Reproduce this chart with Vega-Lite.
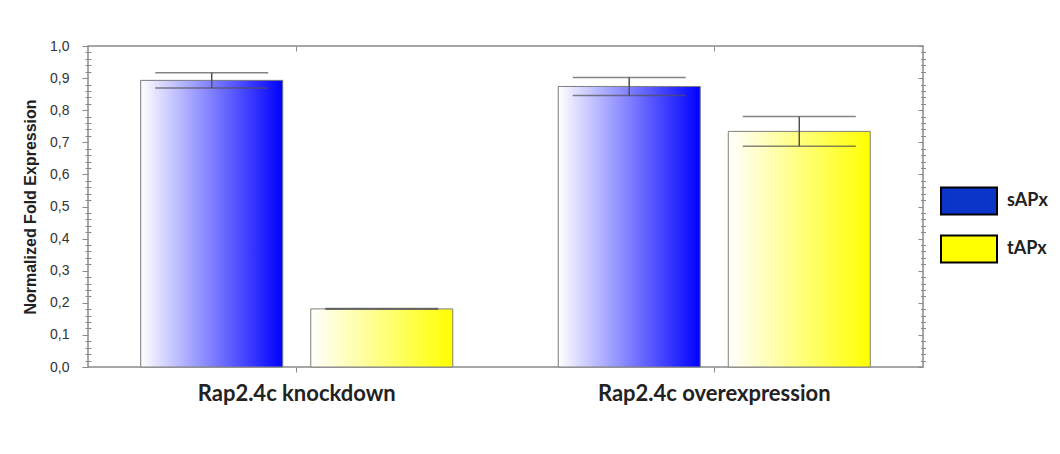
{
  "$schema": "https://vega.github.io/schema/vega-lite/v6.json",
  "autosize": {"type": "none"},
  "padding": {"left": 88, "top": 46, "right": 137, "bottom": 87},
  "width": 835,
  "height": 321,
  "background": "white",
  "config": {
    "view": {"stroke": "#8a8a8a", "strokeWidth": 1.5},
    "axis": {"domain": false, "tickColor": "#8a8a8a", "tickWidth": 1, "grid": false}
  },
  "data": {
    "values": [
      {"group": "Rap2.4c knockdown", "series": "sAPx", "value": 0.893, "lo": 0.869, "hi": 0.917},
      {"group": "Rap2.4c knockdown", "series": "tAPx", "value": 0.181, "lo": 0.180, "hi": 0.182},
      {"group": "Rap2.4c overexpression", "series": "sAPx", "value": 0.874, "lo": 0.846, "hi": 0.902},
      {"group": "Rap2.4c overexpression", "series": "tAPx", "value": 0.734, "lo": 0.688, "hi": 0.780}
    ]
  },
  "resolve": {"axis": {"x": "independent", "y": "independent"}},
  "layer": [
    {
      "mark": {"type": "bar"},
      "encoding": {
        "x": {
          "field": "group", "type": "nominal",
          "scale": {"domain": ["Rap2.4c knockdown", "Rap2.4c overexpression"], "paddingInner": 0, "paddingOuter": 0},
          "axis": {"orient": "bottom", "title": null, "labelAngle": 0, "tickSize": 5, "labelLimit": 0,
                   "labelFont": "Lato", "labelFontWeight": "bold", "labelFontSize": 22,
                   "labelColor": "#222222", "labelPadding": 11}
        },
        "xOffset": {
          "field": "series", "type": "nominal",
          "scale": {"domain": ["sAPx", "tAPx"], "paddingInner": 0.165, "paddingOuter": 0.31}
        },
        "y": {
          "field": "value", "type": "quantitative",
          "scale": {"domain": [0, 1], "nice": false, "zero": true},
          "axis": {"orient": "left", "values": [0, 0.1, 0.2, 0.3, 0.4, 0.5, 0.6, 0.7, 0.8, 0.9, 1.0],
                   "labelExpr": "replace(format(datum.value, '.1f'), '.', ',')",
                   "tickSize": 6, "labelPadding": 13,
                   "labelFont": "Liberation Sans", "labelFontSize": 14, "labelColor": "#333333",
                   "title": "Normalized Fold Expression", "titleFont": "Liberation Sans",
                   "titleFontSize": 16, "titleFontWeight": "bold", "titleColor": "#222222", "titlePadding": 11}
        },
        "fill": {
          "field": "series", "type": "nominal",
          "scale": {"domain": ["sAPx", "tAPx"], "range": ["#0b35c8", "#ffff00"]},
          "legend": {
            "title": null, "orient": "none", "legendX": 852, "legendY": 126,
            "symbolType": "M-1,-0.48H1V0.48H-1Z", "symbolSize": 3136,
            "symbolStrokeColor": "#000000", "symbolStrokeWidth": 2, "symbolOpacity": 1,
            "rowPadding": 1, "labelOffset": 9, "padding": 0,
            "labelFont": "Lato", "labelFontWeight": "bold", "labelFontSize": 18, "labelColor": "#222222"
          }
        }
      }
    },
    {
      "transform": [{"filter": "datum.series === 'sAPx'"}],
      "mark": {
        "type": "bar", "stroke": "#808080", "strokeWidth": 1,
        "fill": {"gradient": "linear", "x1": 0, "y1": 0, "x2": 1, "y2": 0,
                 "stops": [{"offset": 0, "color": "#ffffff"}, {"offset": 1, "color": "#0000ff"}]}
      },
      "encoding": {
        "x": {"field": "group", "type": "nominal",
              "axis": {"orient": "top", "labels": false, "title": null, "tickSize": 5, "offset": -5}},
        "xOffset": {"field": "series", "type": "nominal"},
        "y": {"field": "value", "type": "quantitative",
              "axis": {"orient": "left", "values": [0.02, 0.04, 0.06, 0.08, 0.12, 0.14, 0.16, 0.18, 0.22, 0.24, 0.26, 0.28, 0.32, 0.34, 0.36, 0.38, 0.42, 0.44, 0.46, 0.48, 0.52, 0.54, 0.56, 0.58, 0.62, 0.64, 0.66, 0.68, 0.72, 0.74, 0.76, 0.78, 0.82, 0.84, 0.86, 0.88, 0.92, 0.94, 0.96, 0.98],
                       "labels": false, "title": null, "tickSize": 6, "offset": -3}}
      }
    },
    {
      "transform": [{"filter": "datum.series === 'tAPx'"}],
      "mark": {
        "type": "bar", "stroke": "#808080", "strokeWidth": 1,
        "fill": {"gradient": "linear", "x1": 0, "y1": 0, "x2": 1, "y2": 0,
                 "stops": [{"offset": 0, "color": "#ffffff"}, {"offset": 1, "color": "#ffff00"}]}
      },
      "encoding": {
        "x": {"field": "group", "type": "nominal", "axis": null},
        "xOffset": {"field": "series", "type": "nominal"},
        "y": {"field": "value", "type": "quantitative",
              "axis": {"orient": "right", "values": [0, 0.1, 0.2, 0.3, 0.4, 0.5, 0.6, 0.7, 0.8, 0.9, 1.0],
                       "labels": false, "title": null, "tickSize": 5, "offset": -5}}
      }
    },
    {
      "mark": {"type": "rule", "color": "#505050", "strokeWidth": 1.5},
      "encoding": {
        "x": {"field": "group", "type": "nominal", "axis": null},
        "xOffset": {"field": "series", "type": "nominal"},
        "y": {"field": "lo", "type": "quantitative",
              "axis": {"orient": "right", "values": [0.02, 0.04, 0.06, 0.08, 0.12, 0.14, 0.16, 0.18, 0.22, 0.24, 0.26, 0.28, 0.32, 0.34, 0.36, 0.38, 0.42, 0.44, 0.46, 0.48, 0.52, 0.54, 0.56, 0.58, 0.62, 0.64, 0.66, 0.68, 0.72, 0.74, 0.76, 0.78, 0.82, 0.84, 0.86, 0.88, 0.92, 0.94, 0.96, 0.98],
                       "labels": false, "title": null, "tickSize": 5, "offset": -2.5}},
        "y2": {"field": "hi"}
      }
    },
    {
      "mark": {"type": "tick", "orient": "horizontal", "color": "#505050", "size": 113, "thickness": 1.5},
      "encoding": {
        "x": {"field": "group", "type": "nominal", "axis": null},
        "xOffset": {"field": "series", "type": "nominal"},
        "y": {"field": "hi", "type": "quantitative", "axis": null}
      }
    },
    {
      "mark": {"type": "tick", "orient": "horizontal", "color": "#505050", "size": 113, "thickness": 1.5},
      "encoding": {
        "x": {"field": "group", "type": "nominal", "axis": null},
        "xOffset": {"field": "series", "type": "nominal"},
        "y": {"field": "lo", "type": "quantitative", "axis": null}
      }
    }
  ]
}
